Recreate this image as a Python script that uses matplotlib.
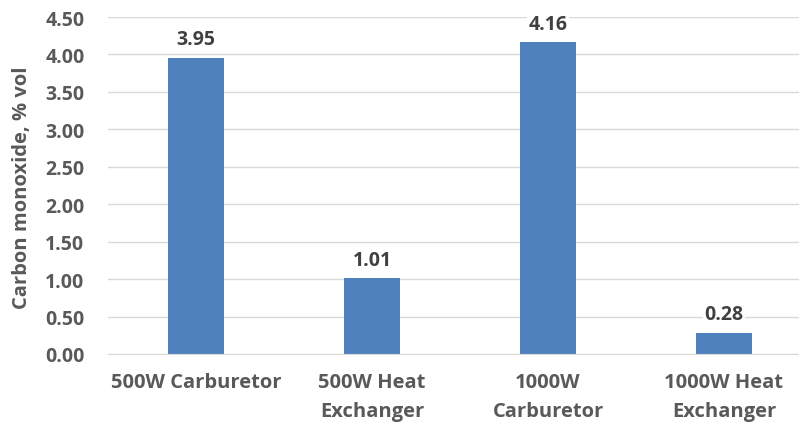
import matplotlib
matplotlib.use("Agg")
import matplotlib.pyplot as plt

categories = ["500W Carburetor", "500W Heat\nExchanger", "1000W\nCarburetor", "1000W Heat\nExchanger"]
values = [3.95, 1.01, 4.16, 0.28]
yticks = [0.0, 0.5, 1.0, 1.5, 2.0, 2.5, 3.0, 3.5, 4.0, 4.5]

plt.rcParams['font.family'] = ['Open Sans', 'DejaVu Sans']
plt.rcParams['font.weight'] = 'bold'
txt = '#595959'

fig = plt.figure(figsize=(7.99, 4.27), dpi=100)
ax = fig.add_axes([108/799, 72/427, 704/799, 337/427])
x = list(range(len(categories)))
ax.bar(x, values, width=0.32, color='#4F81BD', zorder=3)
ax.set_xlim(-0.5, 3.5)
ax.set_ylim(0, 4.5)
ax.set_yticks(yticks)
ax.set_yticklabels([f"{v:.2f}" for v in yticks], fontsize=14, color=txt, fontweight='bold')
ax.set_xticks(x)
ax.set_xticklabels(categories, fontsize=14.5, color=txt, fontweight='bold', linespacing=1.6, va='top')
ax.tick_params(axis='both', length=0)
ax.tick_params(axis='y', pad=17)
ax.tick_params(axis='x', pad=13)
ax.grid(axis='y', color='#D9D9D9', linewidth=1, zorder=0)
for s in ['top', 'right', 'left']:
    ax.spines[s].set_visible(False)
ax.spines['bottom'].set_color('#D9D9D9')
ax.spines['bottom'].set_zorder(4)
for xi, v in zip(x, values):
    ax.annotate(f"{v:.2f}", (xi, v), xytext=(0, 13.5), textcoords='offset points',
                ha='center', va='center', fontsize=14, color='#404040', fontweight='bold',
                bbox=dict(facecolor='white', edgecolor='none', pad=1), zorder=5)
ax.set_ylabel("Carbon monoxide, % vol", fontsize=14.5, color=txt, fontweight='bold')
ax.yaxis.set_label_coords(-76/704, (355 - 188) / 337)
fig.savefig("out.png", dpi=100)
